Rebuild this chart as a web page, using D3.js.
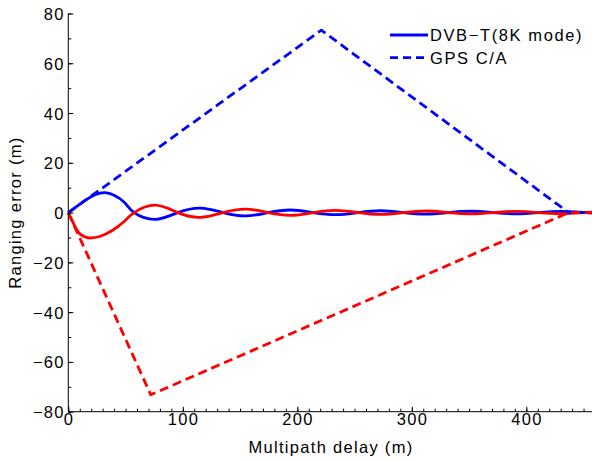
<!DOCTYPE html>
<html><head><meta charset="utf-8">
<script src="https://cdn.jsdelivr.net/npm/d3@7"></script>
<style>html,body{margin:0;padding:0;background:#fff;}svg{display:block;}</style>
</head><body>
<svg id="c" width="592" height="460"></svg>
<script>
// ---- data ----
const xTicks = [0, 100, 200, 300, 400];
const yTicks = [-80, -60, -40, -20, 0, 20, 40, 60, 80];
const legendLabels = ["DVB\u2212T(8K mode)", "GPS C/A"];

const dvbBlueX = [0,8,16,24,32,40,49,57.5,76,95.7,115.4,135.1,154.8,174.5,194.2,213.9,233.6,253.3,273,292.7,312.4,332.1,351.8,371.5,391.2,410.9,430.6,450.3,460];
const dvbBlueY = [0,2.7,5.3,7.3,8.0,7.0,4.1,0,-2.7,0,1.8,0,-1.35,0,1.05,0,-0.85,0,0.75,0,-0.65,0,0.55,0,-0.5,0,0.45,0,-0.28];
const dvbRedX = [0,2,4.5,7.5,11,15,19,28,38,48,57.5,76,95.7,115.4,135.1,154.8,174.5,194.2,213.9,233.6,253.3,273,292.7,312.4,332.1,351.8,371.5,391.2,410.9,430.6,450.3,460];
const dvbRedY = [0,-2,-4.3,-7.0,-8.9,-9.8,-10.2,-9.5,-7.3,-3.9,0,3.0,0,-1.9,0,1.4,0,-1.1,0,0.9,0,-0.75,0,0.65,0,-0.55,0,0.5,0,-0.45,0,0.28];
const gpsBlueX = [0, 221, 437, 460];
const gpsBlueY = [0, 73.3, 0, 0];
const gpsRedX = [0, 72, 437, 460];
const gpsRedY = [0, -73.2, 0, 0];

// ---- chart ----
const svg = d3.select("#c");
const font = "'Liberation Sans', Arial, Helvetica, sans-serif";
const fs = 16.5, ls = 1.3;
const x = d3.scaleLinear().domain([0, 460]).range([68.3, 68.3 + 460 * 1.145]);
const y = d3.scaleLinear().domain([-80, 80]).range([411.7, 13.5]);

const zip = (xs, ys) => xs.map((v, i) => [v, ys[i]]);
const smooth = d3.line().x(d => x(d[0])).y(d => y(d[1])).curve(d3.curveNatural);
const straight = d3.line().x(d => x(d[0])).y(d => y(d[1]));

const g = svg.append("g");
g.append("path").attr("d", smooth(zip(dvbBlueX, dvbBlueY)))
  .attr("fill", "none").attr("stroke", "#0000ff").attr("stroke-width", 2.8);
g.append("path").attr("d", smooth(zip(dvbRedX, dvbRedY)))
  .attr("fill", "none").attr("stroke", "#ff0000").attr("stroke-width", 2.8);
g.append("path").attr("d", straight(zip(gpsBlueX, gpsBlueY)))
  .attr("fill", "none").attr("stroke", "#0000ff").attr("stroke-width", 2.8).attr("stroke-dasharray", "9,5");
g.append("path").attr("d", straight(zip(gpsRedX, gpsRedY)))
  .attr("fill", "none").attr("stroke", "#ff0000").attr("stroke-width", 2.8).attr("stroke-dasharray", "9,5");

// axes
const xAxisMinor = d3.axisTop(x).tickValues(d3.range(0, 461, 10)).tickSize(3).tickFormat("");
const xAxis = d3.axisTop(x).tickValues(xTicks).tickSize(5).tickFormat("");
const yAxisMinor = d3.axisRight(y).tickValues(d3.range(-80, 81, 10)).tickSize(3).tickFormat("");
const yAxis = d3.axisRight(y).tickValues(yTicks).tickSize(5).tickFormat("");

function styleAxis(sel) {
  sel.select(".domain").remove();
  sel.selectAll("line").attr("stroke", "#000").attr("stroke-width", 1);
}
svg.append("g").attr("transform", "translate(0,411.7)").call(xAxisMinor).call(styleAxis);
svg.append("g").attr("transform", "translate(0,411.7)").call(xAxis).call(styleAxis);
svg.append("g").attr("transform", "translate(68.3,0)").call(yAxisMinor).call(styleAxis);
svg.append("g").attr("transform", "translate(68.3,0)").call(yAxis).call(styleAxis);

svg.append("line").attr("x1", 68.3).attr("x2", 600).attr("y1", 411.7).attr("y2", 411.7).attr("stroke", "#000").attr("stroke-width", 1);
svg.append("line").attr("x1", 68.3).attr("x2", 68.3).attr("y1", 13.5).attr("y2", 411.7).attr("stroke", "#000").attr("stroke-width", 1);

// tick labels
const fmt = d3.format("d");
svg.append("g").selectAll("text").data(xTicks).join("text")
  .attr("x", d => x(d) + ls / 2).attr("y", 424.5).attr("text-anchor", "middle")
  .attr("font-family", font).attr("font-size", fs).attr("letter-spacing", ls).attr("fill", "#000")
  .text(d => fmt(d).replace("-", "\u2212"));
svg.append("g").selectAll("text").data(yTicks).join("text")
  .attr("x", 63.5 + ls).attr("y", d => y(d) + 6.5).attr("text-anchor", "end")
  .attr("font-family", font).attr("font-size", fs).attr("letter-spacing", ls).attr("fill", "#000")
  .text(d => fmt(d).replace("-", "\u2212"));

// axis titles
svg.append("text").attr("x", 331).attr("y", 452.5).attr("text-anchor", "middle")
  .attr("font-family", font).attr("font-size", fs).attr("letter-spacing", ls).attr("fill", "#000").text("Multipath delay (m)");
svg.append("text").attr("transform", "translate(21,212.6) rotate(-90)").attr("text-anchor", "middle")
  .attr("font-family", font).attr("font-size", fs).attr("letter-spacing", ls).attr("fill", "#000").text("Ranging error (m)");

// legend
const lg = svg.append("g");
legendLabels.forEach((lab, i) => {
  const ly = 35 + i * 22.7;
  lg.append("line").attr("x1", 390).attr("x2", 428).attr("y1", ly).attr("y2", ly)
    .attr("stroke", "#0000ff").attr("stroke-width", 2.8)
    .attr("stroke-dasharray", i === 1 ? "8,5" : null);
  lg.append("text").attr("x", 430).attr("y", ly + 6).attr("font-family", font)
    .attr("font-size", fs).attr("letter-spacing", 1.6).attr("fill", "#000").text(lab);
});
</script>
</body></html>
